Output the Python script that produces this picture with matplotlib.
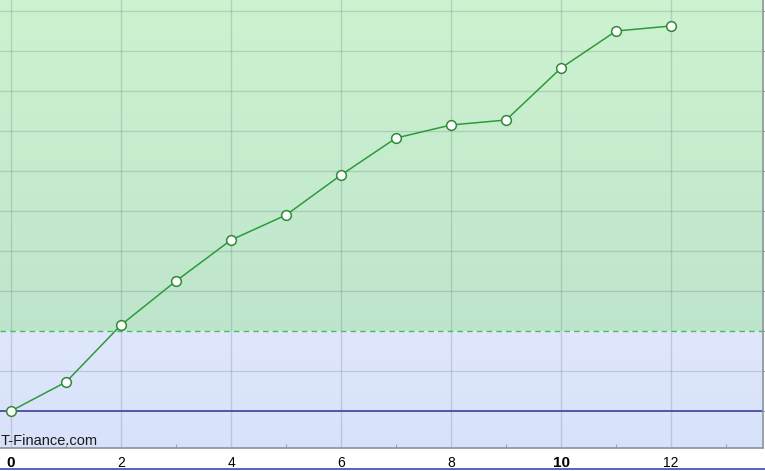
import numpy as np
import matplotlib.pyplot as plt
from matplotlib.lines import Line2D

plt.rcParams['font.family'] = ['Liberation Sans', 'DejaVu Sans']

## data (y in grid units, one gridline = 1)
periods = [0, 1, 2, 3, 4, 5, 6, 7, 8, 9, 10, 11, 12]
values = [0.0, 0.725, 2.15, 3.25, 4.275, 4.9, 5.9, 6.825, 7.15, 7.275, 8.575, 9.5, 9.625]
tick_labels = ['0', '2', '4', '6', '8', '10', '12']
bold_labels = ['0', '10']
threshold = 2.0

fig = plt.figure(figsize=(7.65, 4.71), dpi=100)
fig.patch.set_facecolor('white')
ax = fig.add_axes([0.0, 23 / 471, 763 / 765, 448 / 471])

x0, x1 = -0.2, 13.67
y0, y1 = -0.925, 10.275

## background gradients: green above threshold, blue below
top_g, bot_g = np.array([0.805, 0.950, 0.815]), np.array([0.745, 0.900, 0.800])
green = top_g + np.linspace(0, 1, 100)[:, None, None] * (bot_g - top_g)
ax.imshow(green, extent=[x0, x1, threshold, y1], aspect='auto', zorder=0, origin='upper')
top_b, bot_b = np.array([0.875, 0.906, 0.988]), np.array([0.845, 0.885, 0.980])
blue = top_b + np.linspace(0, 1, 100)[:, None, None] * (bot_b - top_b)
ax.imshow(blue, extent=[x0, x1, y0, threshold], aspect='auto', zorder=0, origin='upper')
ax.set_xlim(x0, x1)
ax.set_ylim(y0, y1)

## grid
for gx in range(0, 14, 2):
    ax.axvline(gx, color=(0.25, 0.35, 0.4), alpha=0.2, lw=1, zorder=1)
for gy in range(-1, 11):
    if gy in (0, 2):
        continue
    ax.axhline(gy, color=(0.25, 0.35, 0.4), alpha=0.2, lw=1, zorder=1)

ax.axhline(threshold, color='#4cbd57', lw=1, ls=(0, (4, 3)), zorder=2)
ax.axhline(0, color='#2b3190', lw=1.1, zorder=2)

ax.plot(periods, values, color='#2e9a3a', lw=1.1, marker='o', markersize=7,
        markerfacecolor='white', markeredgecolor='#2e8a36', markeredgewidth=1.1, zorder=3)

## axes
ax.set_xticks(range(0, 13, 2))
ax.set_xticklabels(tick_labels, fontsize=10)
for lab in ax.get_xticklabels():
    if lab.get_text() in bold_labels:
        lab.set_fontweight('bold')
        lab.set_fontsize(11)
ax.set_xticks(range(1, 14, 2), minor=True)
ax.tick_params(axis='x', which='both', direction='in', length=3, color='#8a949c', pad=6)
ax.tick_params(axis='x', which='major', length=0)
ax.yaxis.tick_right()
ax.set_yticks(range(0, 11))
ax.set_yticklabels([])
ax.tick_params(axis='y', direction='out', length=4, color='#8a949c')
for s in ['top', 'left']:
    ax.spines[s].set_visible(False)
for s in ['bottom', 'right']:
    ax.spines[s].set_color('#8a949c')
    ax.spines[s].set_linewidth(1.2)

ax.text(0.001, -0.76, 'T-Finance.com', fontsize=10.5, color='#1a1a1a', ha='left', va='center',
        zorder=4, transform=ax.get_yaxis_transform())

## bottom strip line
fig.add_artist(Line2D([0, 1], [2.5 / 471, 2.5 / 471], color='#3a48b0', lw=1.2))

fig.savefig('out.png', dpi=100)
